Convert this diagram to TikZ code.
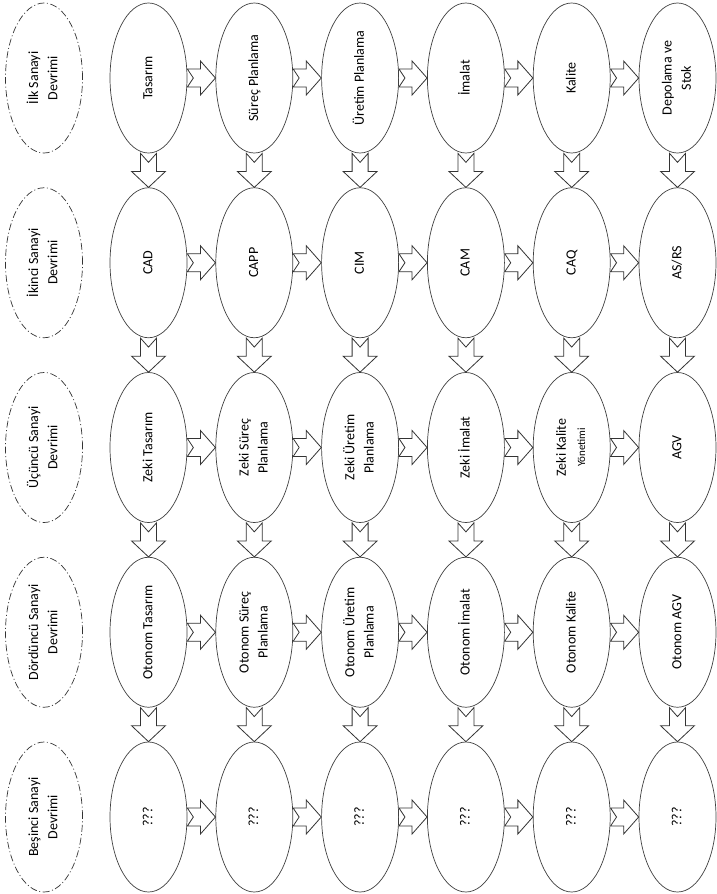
\documentclass[tikz,border=0pt]{standalone}
\usepackage{fontspec}
\setmainfont{Carlito}
\usetikzlibrary{shapes.geometric,calc}
\tikzset{
  stage/.style={ellipse,draw=black!75,line width=0.7pt,fill=white,minimum width=77pt,minimum height=150pt,inner sep=0pt},
  era/.style={stage,draw=black!80,dash pattern=on 7pt off 2.5pt on 1pt off 2.5pt},
  blockarr/.style={draw=black!80,line width=0.8pt,fill=white,line join=miter},
}
% hollow block arrow with notched tail, from node to node
\newcommand\rarr[2]{%
  \coordinate (t) at (#1.east); \coordinate (h) at (#2.west);
  \draw[blockarr] ($(t)+(0pt,9pt)$) -- ($(h)+(-15pt,9pt)$) -- ($(h)+(-15pt,17pt)$) -- (h)
    -- ($(h)+(-15pt,-17pt)$) -- ($(h)+(-15pt,-9pt)$) -- ($(t)+(0pt,-9pt)$) -- ($(t)+(6pt,0pt)$) -- cycle;}
\newcommand\darr[2]{%
  \coordinate (t) at (#1.south); \coordinate (h) at (#2.north);
  \draw[blockarr] ($(t)+(-8pt,0pt)$) -- ($(t)+(0pt,-9pt)$) -- ($(t)+(8pt,0pt)$) -- ($(h)+(8pt,16pt)$)
    -- ($(h)+(17pt,16pt)$) -- (h) -- ($(h)+(-17pt,16pt)$) -- ($(h)+(-8pt,16pt)$) -- cycle;}
\newcommand\vtxt[1]{\rotatebox{90}{\renewcommand\arraystretch{1.2}\begin{tabular}{@{}c@{}}#1\end{tabular}}}

\begin{document}
\begin{tikzpicture}[x=1pt,y=-1pt,font=\fontsize{14}{16}\selectfont]
\useasboundingbox (0,0) rectangle (716,894);
% revolutions
\foreach \r/\lab in {1/{İlk Sanayi\\Devrimi},2/{İkinci Sanayi\\Devrimi},3/{Üçüncü Sanayi\\Devrimi},
  4/{Dördüncü Sanayi\\Devrimi},5/{Beşinci Sanayi\\Devrimi}}
  \node[era] (e\r) at (44,{78+184.75*(\r-1)}) {\vtxt{\lab}};
% stages
\foreach \c/\lab in {1/Tasarım,2/Süreç Planlama,3/Üretim Planlama,4/İmalat,5/Kalite,6/{Depolama ve\\Stok}}
  \node[stage] (n1\c) at ({148.5+105.8*(\c-1)},78) {\vtxt{\lab}};
\foreach \c/\lab in {1/CAD,2/CAPP,3/CIM,4/CAM,5/CAQ,6/{AS/RS}}
  \node[stage] (n2\c) at ({148.5+105.8*(\c-1)},262.75) {\vtxt{\lab}};
\foreach \c/\lab in {1/Zeki Tasarım,2/{Zeki Süreç\\Planlama},3/{Zeki Üretim\\Planlama},4/Zeki İmalat,
  5/{Zeki Kalite\\{\fontsize{11}{13}\selectfont Yönetimi}},6/AGV}
  \node[stage] (n3\c) at ({148.5+105.8*(\c-1)},447.5) {\vtxt{\lab}};
\foreach \c/\lab in {1/Otonom Tasarım,2/{Otonom Süreç\\Planlama},3/{Otonom Üretim\\Planlama},4/Otonom İmalat,
  5/Otonom Kalite,6/Otonom AGV}
  \node[stage] (n4\c) at ({148.5+105.8*(\c-1)},632.25) {\vtxt{\lab}};
\foreach \c in {1,...,6}
  \node[stage] (n5\c) at ({148.5+105.8*(\c-1)},817) {\vtxt{???}};
% arrows
\foreach \r in {1,...,5} {
  \foreach \c [evaluate=\c as \d using int(\c+1)] in {1,...,5} {\rarr{n\r\c}{n\r\d}}
}
\foreach \c in {1,...,6} {
  \foreach \r [evaluate=\r as \s using int(\r+1)] in {1,...,4} {\darr{n\r\c}{n\s\c}}
}
\end{tikzpicture}
\end{document}
